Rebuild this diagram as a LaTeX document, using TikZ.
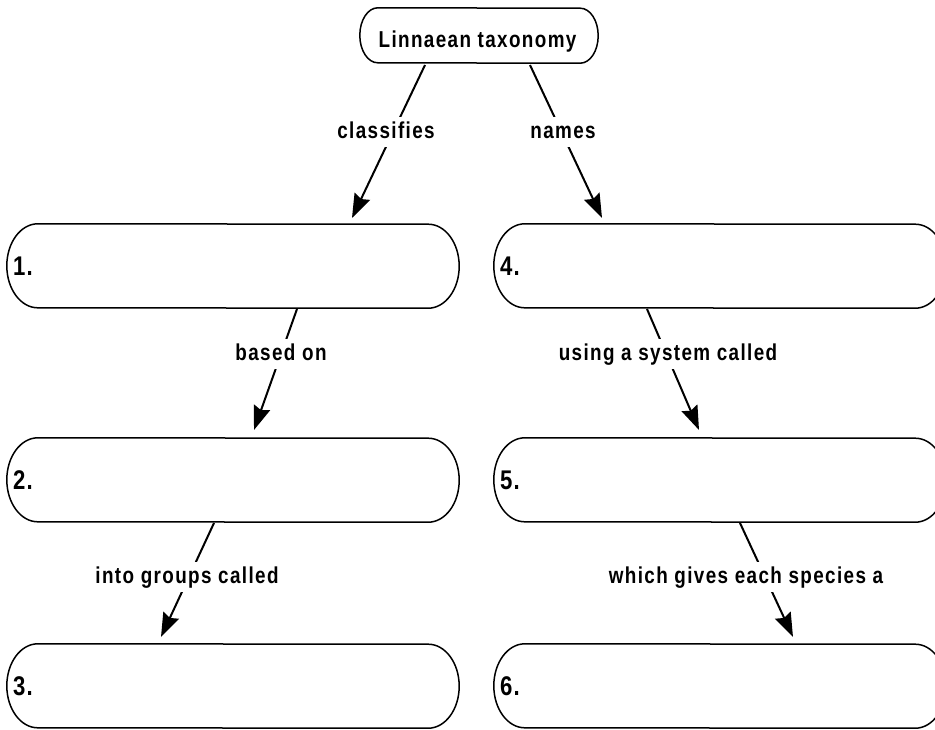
\documentclass[tikz,border=0pt]{standalone}
\usepackage{fontspec}
\setmainfont{Liberation Sans}
\newfontfamily\lblfont[FakeStretch=0.82,LetterSpace=6]{Liberation Sans Bold}
\newfontfamily\numfont[FakeStretch=0.82,LetterSpace=4]{Liberation Sans Bold}
\usetikzlibrary{arrows.meta}
\tikzset{
  pillcore/.style={inner sep=0pt, minimum width=390pt, minimum height=84pt},
  outline/.style={line width=1.5pt, draw=black},
  conn/.style={line width=2pt, -{Stealth[length=24pt,width=17pt,inset=3pt]}},
  lbl/.style={fill=white, inner xsep=3pt, inner ysep=5pt, anchor=base,
    font=\lblfont\fontsize{23}{23}\selectfont, text height=16pt, text depth=4pt},
  num/.style={inner sep=0pt, anchor=west, font=\numfont\fontsize{27}{27}\selectfont},
  toptext/.style={inner sep=0pt, anchor=base, font=\lblfont\fontsize{23}{23}\selectfont},
}
\begin{document}
\begin{tikzpicture}[x=1pt,y=1pt]
\fill[white] (0,0) rectangle (935,-729);
\useasboundingbox (0,0) rectangle (935,-729);

% boxes (straight parts)
\node[pillcore, minimum width=202pt, minimum height=55pt] (top) at (479,-35.5) {};
\node[toptext] (toplbl) at (477.5,-47) {Linnaean taxonomy};
\node[pillcore] (b1) at (233,-266) {};
\node[pillcore] (b4) at (720,-266) {};
\node[pillcore] (b2) at (233,-480) {};
\node[pillcore] (b5) at (720,-480) {};
\node[pillcore] (b3) at (233,-686) {};
\node[pillcore] (b6) at (720,-686) {};

\foreach \n/\rx/\ry in {top/18/27.5, b1/31/42, b2/31/42, b3/31/42, b4/31/42, b5/31/42, b6/31/42}
  \draw[outline] (\n.north west) arc[start angle=90, end angle=270, x radius=\rx, y radius=\ry]
     -- (\n.south east) arc[start angle=-90, end angle=90, x radius=\rx, y radius=\ry] -- cycle;

% numbers
\node[num] (n1) at (13,-266) {1.};
\node[num] (n2) at (13,-480) {2.};
\node[num] (n3) at (13,-686) {3.};
\node[num] (n4) at (500,-266) {4.};
\node[num] (n5) at (500,-480) {5.};
\node[num] (n6) at (500,-686) {6.};

% connector end points
\coordinate (a1s) at (425,-65);  \coordinate (a1e) at (352,-218);
\coordinate (a2s) at (530,-65);  \coordinate (a2e) at (602,-218);
\coordinate (a3s) at (297,-309); \coordinate (a3e) at (254,-430);
\coordinate (a4s) at (647,-309); \coordinate (a4e) at (699,-430);
\coordinate (a5s) at (214,-523); \coordinate (a5e) at (161,-637);
\coordinate (a6s) at (740,-523); \coordinate (a6e) at (793,-637);

\draw[conn] (a1s) -- (a1e);
\draw[conn] (a2s) -- (a2e);
\draw[conn] (a3s) -- (a3e);
\draw[conn] (a4s) -- (a4e);
\draw[conn] (a5s) -- (a5e);
\draw[conn] (a6s) -- (a6e);

% connector labels
\node[lbl] (l1) at (386,-138) {classifies};
\node[lbl] (l2) at (563,-138) {names};
\node[lbl] (l3) at (281,-360) {based on};
\node[lbl] (l4) at (668,-360) {using a system called};
\node[lbl] (l5) at (187,-583) {into groups called};
\node[lbl] (l6) at (746,-583) {which gives each species a};
\end{tikzpicture}
\end{document}
